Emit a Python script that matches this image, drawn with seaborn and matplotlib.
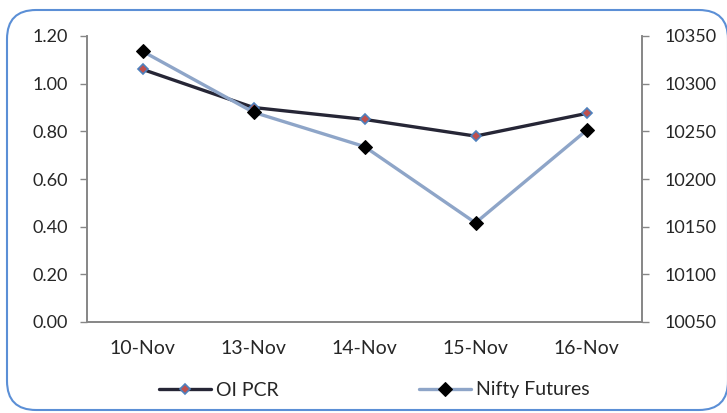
import numpy as np
import pandas as pd
import seaborn as sns
import matplotlib.pyplot as plt
from matplotlib.patches import FancyBboxPatch
from matplotlib.ticker import FixedLocator

dates = ["10-Nov", "13-Nov", "14-Nov", "15-Nov", "16-Nov"]
oi_pcr = [1.06, 0.90, 0.85, 0.78, 0.875]
nifty_futures = [10334, 10270, 10234, 10154, 10251]

sns.set_style("white")
plt.rcParams["font.family"] = ["Lato", "DejaVu Sans"]

df = pd.DataFrame({"date": dates, "pcr": oi_pcr, "nifty": nifty_futures})

fig = plt.figure(figsize=(7.27, 4.13), dpi=100)
ax = fig.add_axes([87 / 727, 1 - 322 / 413, (642 - 87) / 727, (322 - 36) / 413])
ax2 = ax.twinx()

sns.lineplot(data=df, x="date", y="pcr", ax=ax, color="#262636", linewidth=2.4,
             marker="D", markersize=5, markerfacecolor="#c0504d",
             markeredgecolor="#4f81bd", markeredgewidth=1.2, label="OI PCR", legend=False)
sns.lineplot(data=df, x="date", y="nifty", ax=ax2, color="#8ea5c8", linewidth=2.4,
             marker="D", markersize=7.5, markerfacecolor="black",
             markeredgecolor="black", label="Nifty Futures", legend=False)

ax.set_xlim(-0.5, 4.5)
ax.set_ylim(0, 1.2)
ax2.set_ylim(10050, 10350)
ax.set_yticks(np.arange(0, 1.21, 0.2))
ax.set_yticklabels([f"{v:.2f}" for v in np.arange(0, 1.21, 0.2)])
ax2.set_yticks(np.arange(10050, 10351, 50))
ax.set_xlabel("")
ax.set_ylabel("")
ax2.set_ylabel("")

ax.xaxis.set_minor_locator(FixedLocator(np.arange(-0.5, 4.6, 1)))
ax.tick_params(axis="x", which="major", length=0, pad=13, labelsize=14)
ax.tick_params(axis="x", which="minor", length=5, width=1, color="#868686", direction="out")
ax.tick_params(axis="y", length=5, width=1, color="#868686", direction="out", labelsize=13, pad=9)
ax2.tick_params(axis="y", length=5, width=1, color="#868686", direction="out", labelsize=13, pad=11)

for a in (ax, ax2):
    a.spines["top"].set_visible(False)
    for s in ("left", "right", "bottom"):
        a.spines[s].set_color("#868686")
        a.spines[s].set_linewidth(1.2)

h1, l1 = ax.get_legend_handles_labels()
h2, l2 = ax2.get_legend_handles_labels()
fig.legend(h1 + h2, l1 + l2, loc="center", bbox_to_anchor=(374 / 727, 1 - 390 / 413),
           ncol=2, frameon=False, fontsize=14, columnspacing=7.2,
           handlelength=2.7, handletextpad=0.25)

border = FancyBboxPatch((7 / 727, 3 / 413), 721 / 727, 400 / 413,
                        boxstyle="round,pad=0,rounding_size=0.04",
                        transform=fig.transFigure, fill=False, edgecolor="#5b8fd6",
                        linewidth=1.5, mutation_aspect=727 / 413)
fig.patches.append(border)

fig.savefig("out.png", dpi=100)
